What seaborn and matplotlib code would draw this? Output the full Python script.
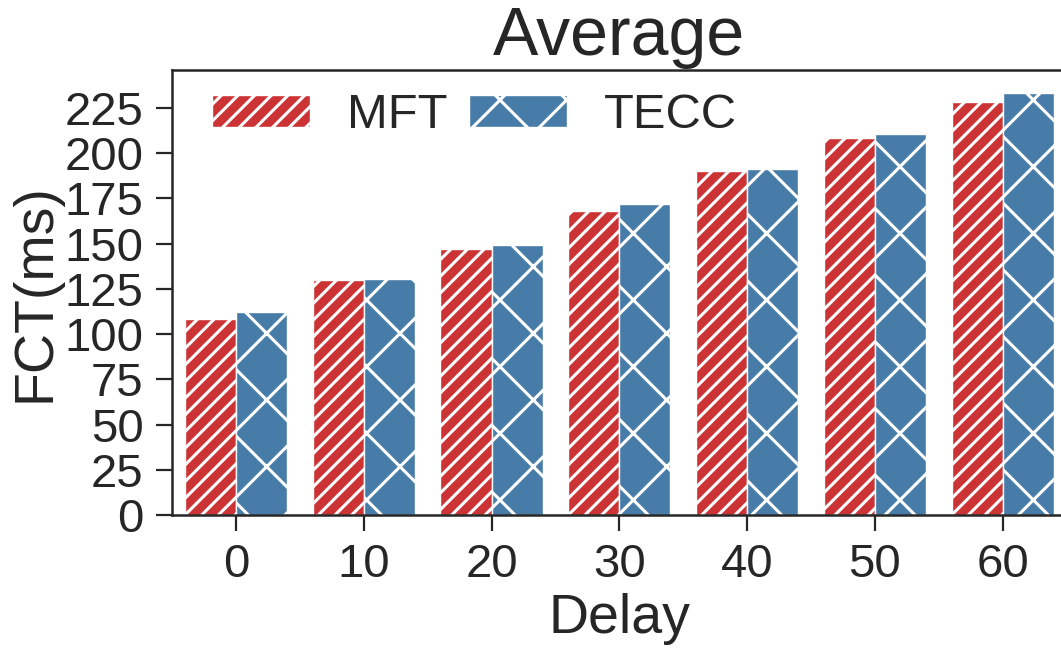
import matplotlib
matplotlib.use("Agg")
import matplotlib.pyplot as plt
import seaborn as sns
import pandas as pd

delays = ["0", "10", "20", "30", "40", "50", "60"]
mft = [108.2, 129.7, 146.9, 168.0, 190.0, 208.2, 228.3]
tecc = [112.2, 130.5, 149.3, 171.8, 191.4, 210.4, 233.4]
series_names = ["MFT", "TECC"]
hatches = ["////", "x"]

df = pd.DataFrame({
    "Delay": delays * 2,
    "FCT": mft + tecc,
    "Scheme": [series_names[0]] * len(delays) + [series_names[1]] * len(delays),
})

sns.set_theme(style="ticks")
plt.rcParams["font.family"] = ["Liberation Sans", "DejaVu Sans"]
plt.rcParams["hatch.linewidth"] = 1.1
plt.rcParams["hatch.color"] = "white"

DPI = 200
fig = plt.figure(figsize=(1061 / DPI, 649 / DPI), dpi=DPI)
ax = fig.add_axes([172 / 1061, (649 - 515) / 649, 894.6 / 1061, (515 - 70) / 649])

sns.barplot(data=df, x="Delay", y="FCT", hue="Scheme", order=delays,
            hue_order=series_names, palette="Set1", ax=ax, legend=False,
            edgecolor="white", linewidth=0.5)

for cont, h in zip(ax.containers, hatches):
    for p in cont:
        p.set_hatch(h)

ax.set_xlim(-0.5, 6.5)
ax.set_ylim(0, 246)
ax.set_yticks([0, 25, 50, 75, 100, 125, 150, 175, 200, 225])

for s in ax.spines.values():
    s.set_linewidth(0.9)
ax.tick_params(axis="both", labelsize=17, length=5.8, width=0.8, pad=4.4)

ax.set_xlabel("Delay", fontsize=20, labelpad=2.0)
ax.set_ylabel("FCT(ms)", fontsize=20, labelpad=1.0)
ax.set_title("Average", fontsize=24.5, pad=5.4)

ax.legend(ax.containers, series_names, loc="upper left", bbox_to_anchor=(0.045, 0.948),
          frameon=False, ncol=2, fontsize=17.6, borderaxespad=0, borderpad=0,
          handlelength=2.0, handleheight=0.65, handletextpad=0.75, columnspacing=0.45)

fig.savefig("out.png", dpi=DPI)
